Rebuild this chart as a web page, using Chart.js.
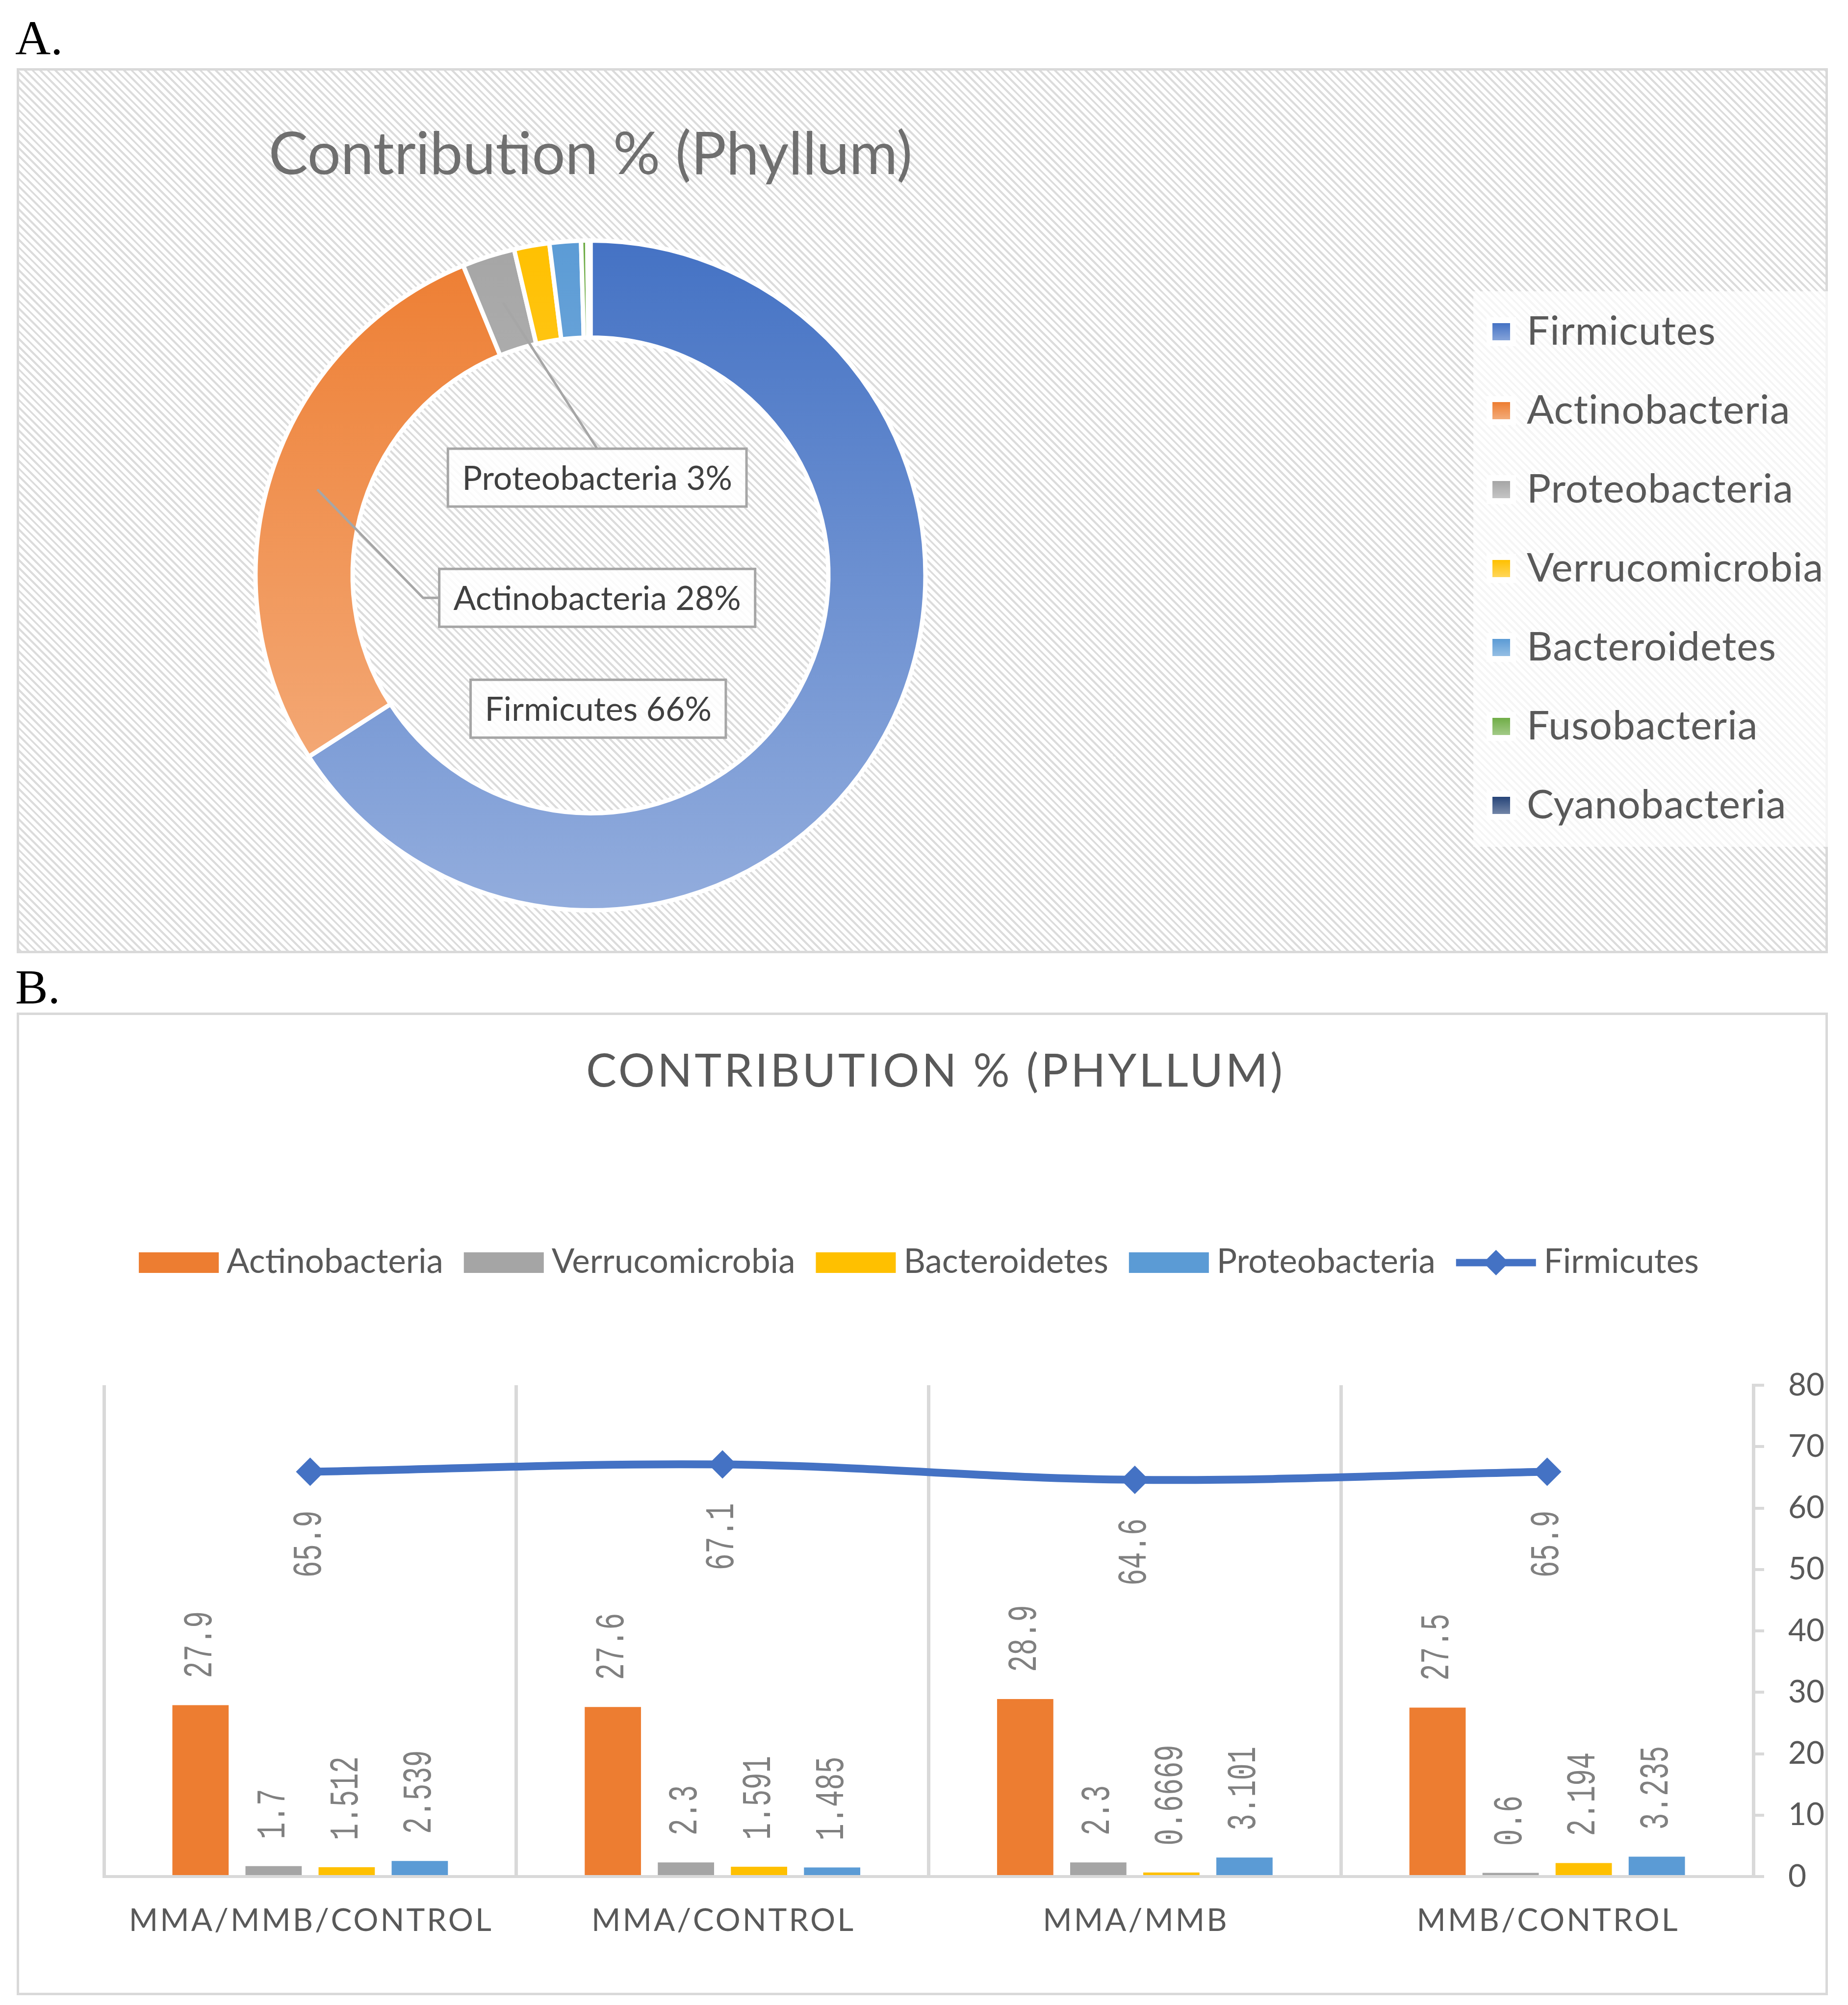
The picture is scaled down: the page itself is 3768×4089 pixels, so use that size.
<!DOCTYPE html>
<html>
<head>
<meta charset="utf-8">
<title>Contribution % (Phyllum)</title>
<script src="https://cdn.jsdelivr.net/npm/chart.js@4.4.1/dist/chart.umd.min.js"></script>
<style>
  html, body { margin: 0; padding: 0; background: #fff; }
  body { width: 3768px; height: 4089px; position: relative; overflow: hidden; }
  .tag { position: absolute; left: 31px; font-family: 'Liberation Serif', serif; font-size: 100px; line-height: 100px; color: #000; }
  .panel { position: absolute; left: 34px; width: 3693px; box-sizing: border-box; border: 5px solid #d9d9d9; }
  #panelA { top: 139px; height: 1805px; background: repeating-linear-gradient(45deg, #dcdcdc 0px, #dcdcdc 4px, #ffffff 4px, #ffffff 11px); }
  #panelB { top: 2065px; height: 2004px; background: #fff; }
  canvas { position: absolute; left: 34px; }
  #donut { top: 139px; }
  #bars { top: 2065px; }
</style>
</head>
<body>
<div class="tag" style="top:28px">A.</div>
<div class="tag" style="top:1963px">B.</div>
<div class="panel" id="panelA"></div>
<div class="panel" id="panelB"></div>
<canvas id="donut" width="3693" height="1805"></canvas>
<canvas id="bars" width="3693" height="2004"></canvas>

<script>
// Panel A: overall share per phylum (%)
const phyla = ['Firmicutes', 'Actinobacteria', 'Proteobacteria', 'Verrucomicrobia', 'Bacteroidetes', 'Fusobacteria', 'Cyanobacteria'];
const phylumShare = [65.9, 27.9, 2.539, 1.7, 1.512, 0.3, 0.15];
const phylumColors = ['#4472c4', '#ed7d31', '#a5a5a5', '#ffc000', '#5b9bd5', '#70ad47', '#264478'];

// Panel B: contribution per comparison (%)
const groups = ['MMA/MMB/CONTROL', 'MMA/CONTROL', 'MMA/MMB', 'MMB/CONTROL'];
const actinobacteria = [27.9, 27.6, 28.9, 27.5];
const verrucomicrobia = [1.7, 2.3, 2.3, 0.6];
const bacteroidetes = [1.512, 1.591, 0.6669, 2.194];
const proteobacteria = [2.539, 1.485, 3.101, 3.235];
const firmicutes = [65.9, 67.1, 64.6, 65.9];
const axisTicks = [0, 10, 20, 30, 40, 50, 60, 70, 80];

Chart.defaults.font.family = 'Lato';

// lighter version of a colour, used for the gradient fills
function tint(hex, amt) {
    const n = parseInt(hex.slice(1), 16);
    const r = (n >> 16) & 255, g = (n >> 8) & 255, b = n & 255;
    const mix = c => Math.round(c + (255 - c) * amt);
    return 'rgb(' + mix(r) + ',' + mix(g) + ',' + mix(b) + ')';
}

// ---------- Panel A ----------

const donutLegend = {
    id: 'donutLegend',
    beforeDraw(chart) {
        const ctx = chart.ctx;
        ctx.save();
        ctx.fillStyle = 'rgba(255,255,255,0.72)';
        ctx.fillRect(2970, 455, chart.width - 2970, 1133);
        ctx.restore();
    },
    afterDraw(chart) {
        const ctx = chart.ctx;
        ctx.save();
        ctx.font = '82px Lato';
        ctx.letterSpacing = '1px';
        ctx.textBaseline = 'alphabetic';
        phyla.forEach((name, k) => {
            const base = 564 + k * 161;
            ctx.fillStyle = 'rgba(255,255,255,0.9)';
            ctx.fillRect(2997, base - 56, 60, 59);
            const g = ctx.createLinearGradient(0, base - 44, 0, base - 9);
            g.addColorStop(0, phylumColors[k]);
            g.addColorStop(1, tint(phylumColors[k], 0.35));
            ctx.fillStyle = g;
            ctx.fillRect(3009, base - 44, 36, 35);
            ctx.fillStyle = '#595959';
            ctx.fillText(name, 3079, base);
        });
        ctx.restore();
    }
};

const donutLabels = {
    id: 'donutLabels',
    afterDatasetsDraw(chart) {
        const ctx = chart.ctx;
        const meta = chart.getDatasetMeta(0);
        const first = meta.data[0];
        const cx = first.x, cy = first.y, R = first.outerRadius;
        const total = phylumShare.reduce((a, b) => a + b, 0);
        // label boxes sit inside the hole, offsets in units of the outer radius
        const spots = [
            { i: 0, dx: 0.023, dy: 0.398, leader: 'none' },
            { i: 1, dx: 0.020, dy: 0.067, leader: 'elbow' },
            { i: 2, dx: 0.020, dy: -0.292, leader: 'top' }
        ];
        ctx.save();
        ctx.font = '68px Lato';
        spots.forEach(s => {
            const text = phyla[s.i] + ' ' + Math.round(phylumShare[s.i] / total * 100) + '%';
            const w = ctx.measureText(text).width + 58;
            const h = 118;
            const bx = cx + s.dx * R - w / 2;
            const by = cy + s.dy * R - h / 2;
            const from = meta.data[s.i].tooltipPosition();

            ctx.strokeStyle = '#a6a6a6';
            ctx.lineWidth = 5;
            if (s.leader === 'top') {
                ctx.beginPath();
                ctx.moveTo(from.x, from.y);
                ctx.lineTo(bx + w / 2, by);
                ctx.stroke();
            } else if (s.leader === 'elbow') {
                ctx.beginPath();
                ctx.moveTo(from.x, from.y);
                ctx.lineTo(bx - 33, by + h / 2);
                ctx.lineTo(bx, by + h / 2);
                ctx.stroke();
            }

            ctx.fillStyle = 'rgba(255,255,255,0.85)';
            ctx.fillRect(bx, by, w, h);
            ctx.strokeRect(bx, by, w, h);

            ctx.fillStyle = '#404040';
            ctx.textAlign = 'center';
            ctx.textBaseline = 'alphabetic';
            ctx.fillText(text, bx + w / 2, by + h / 2 + 25);
        });
        ctx.restore();
    }
};

new Chart(document.getElementById('donut'), {
    type: 'doughnut',
    data: {
        labels: phyla,
        datasets: [{
            data: phylumShare,
            backgroundColor: (c) => {
                const base = phylumColors[c.dataIndex];
                const area = c.chart.chartArea;
                if (!area) return base;
                const g = c.chart.ctx.createLinearGradient(0, area.top, 0, area.bottom);
                g.addColorStop(0, base);
                g.addColorStop(1, tint(base, 0.42));
                return g;
            },
            borderColor: '#ffffff',
            borderWidth: 9
        }]
    },
    options: {
        responsive: false,
        animation: false,
        devicePixelRatio: 1,
        events: [],
        cutout: '71%',
        layout: { padding: { left: 0, right: 1353, top: 0, bottom: 83 } },
        plugins: {
            legend: { display: false },
            tooltip: { enabled: false },
            title: {
                display: true,
                text: 'Contribution % (Phyllum)',
                color: '#6f6f6f',
                font: { family: 'Lato', size: 120, weight: 'normal' },
                padding: { top: 105, bottom: 98 },
                fullSize: false
            }
        }
    },
    plugins: [donutLegend, donutLabels]
});

// ---------- Panel B ----------

const barDecor = {
    id: 'barDecor',
    afterDraw(chart) {
        const ctx = chart.ctx;
        const area = chart.chartArea;
        ctx.save();
        ctx.textBaseline = 'alphabetic';

        // title
        ctx.fillStyle = '#595959';
        ctx.font = '93px Lato';
        ctx.letterSpacing = '5px';
        ctx.textAlign = 'center';
        ctx.fillText('CONTRIBUTION % (PHYLLUM)', (area.left + area.right) / 2 + 14, 151);

        // category labels
        ctx.font = '64px Lato';
        ctx.letterSpacing = '4px';
        const xs = chart.scales.x;
        groups.forEach((g, i) => {
            ctx.fillText(g, xs.getPixelForValue(i) + 2, 1873);
        });
        ctx.letterSpacing = '0px';

        // legend
        ctx.font = '69px Lato';
        ctx.textAlign = 'left';
        const items = chart.data.datasets.map(ds => ({
            label: ds.label,
            color: ds.type === 'line' ? ds.borderColor : ds.backgroundColor,
            line: ds.type === 'line'
        }));
        const boxW = 163, gapText = 16, gapItem = 42, base = 531;
        let total = 0;
        items.forEach((it, k) => {
            it.w = ctx.measureText(it.label).width;
            total += boxW + gapText + it.w + (k ? gapItem : 0);
        });
        let x = chart.width / 2 - total / 2 - 7;
        items.forEach(it => {
            ctx.fillStyle = it.color;
            if (it.line) {
                const y = base - 21, mx = x + boxW / 2, r = 26;
                ctx.strokeStyle = it.color;
                ctx.lineWidth = 15;
                ctx.beginPath();
                ctx.moveTo(x, y);
                ctx.lineTo(x + boxW, y);
                ctx.stroke();
                ctx.beginPath();
                ctx.moveTo(mx - r, y);
                ctx.lineTo(mx, y - r);
                ctx.lineTo(mx + r, y);
                ctx.lineTo(mx, y + r);
                ctx.closePath();
                ctx.fill();
            } else {
                ctx.fillRect(x, base - 42, boxW, 42);
            }
            ctx.fillStyle = '#595959';
            ctx.fillText(it.label, x + boxW + gapText, base);
            x += boxW + gapText + it.w + gapItem;
        });
        ctx.restore();
    }
};

const barValues = {
    id: 'barValues',
    afterDatasetsDraw(chart) {
        const ctx = chart.ctx;
        ctx.save();
        ctx.font = '57px "Liberation Mono"';
        ctx.fillStyle = '#808080';
        ctx.textBaseline = 'middle';
        chart.data.datasets.forEach((ds, d) => {
            const meta = chart.getDatasetMeta(d);
            meta.data.forEach((el, i) => {
                const isLine = ds.type === 'line';
                ctx.save();
                ctx.translate(el.x, isLine ? el.y + 79 : el.y - 55);
                ctx.rotate(-Math.PI / 2);
                ctx.scale(1, 1.45);
                ctx.textAlign = isLine ? 'right' : 'left';
                ctx.fillText(String(ds.data[i]), 0, 0);
                ctx.restore();
            });
        });
        ctx.restore();
    }
};

new Chart(document.getElementById('bars'), {
    type: 'bar',
    data: {
        labels: groups,
        datasets: [
            { label: 'Actinobacteria', data: actinobacteria, backgroundColor: '#ed7d31', order: 1 },
            { label: 'Verrucomicrobia', data: verrucomicrobia, backgroundColor: '#a5a5a5', order: 1 },
            { label: 'Bacteroidetes', data: bacteroidetes, backgroundColor: '#ffc000', order: 1 },
            { label: 'Proteobacteria', data: proteobacteria, backgroundColor: '#5b9bd5', order: 1 },
            {
                type: 'line',
                label: 'Firmicutes',
                data: firmicutes,
                borderColor: '#4472c4',
                backgroundColor: '#4472c4',
                borderWidth: 16,
                tension: 0.35,
                fill: false,
                pointStyle: 'rectRot',
                pointRadius: 29,
                pointBorderWidth: 0,
                pointBackgroundColor: '#4472c4',
                order: 0
            }
        ]
    },
    options: {
        responsive: false,
        animation: false,
        devicePixelRatio: 1,
        events: [],
        categoryPercentage: 0.709,
        barPercentage: 0.77,
        layout: { padding: { left: 178, right: 0, top: 760, bottom: 0 } },
        plugins: {
            legend: { display: false },
            tooltip: { enabled: false },
            title: { display: false }
        },
        scales: {
            x: {
                offset: true,
                grid: { display: true, offset: true, color: '#d9d9d9', lineWidth: 7, drawTicks: false },
                border: { display: true, color: '#d9d9d9', width: 6 },
                ticks: { display: false },
                afterFit: (s) => { s.height = 242; }
            },
            y: {
                position: 'right',
                min: axisTicks[0],
                max: axisTicks[axisTicks.length - 1],
                ticks: {
                    stepSize: axisTicks[1] - axisTicks[0],
                    color: '#595959',
                    font: { family: 'Lato', size: 64 },
                    padding: 49
                },
                grid: { display: true, drawOnChartArea: false, drawTicks: true, tickLength: 22, color: '#d9d9d9', lineWidth: 6 },
                border: { display: true, color: '#d9d9d9', width: 6 },
                afterFit: (s) => { s.width = 152; }
            }
        }
    },
    plugins: [barValues, barDecor]
});
</script>
</body>
</html>
